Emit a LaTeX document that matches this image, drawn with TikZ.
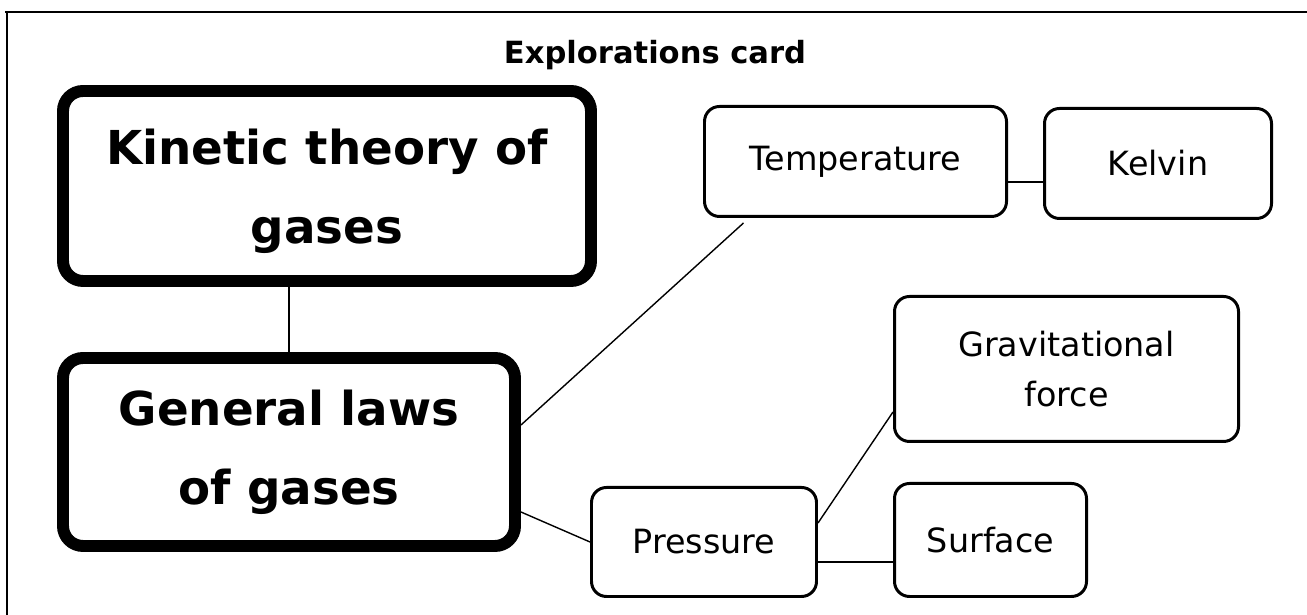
\documentclass[tikz,border=0pt]{standalone}
\usepackage{fontspec}
\setmainfont{DejaVu Sans}
\usepackage{tikz}
\usetikzlibrary{positioning}

\begin{document}
\begin{tikzpicture}[line width=0.8pt,
        bigbox/.style={draw, line width=6.8pt, rounded corners=0.4cm, align=center, inner sep=0pt,
            font=\fontsize{26.6}{45}\selectfont\bfseries},
        smallbox/.style={draw, line width=1.7pt, rounded corners=0.3cm, align=center, inner sep=0pt,
            font=\fontsize{19}{28}\selectfont}]
                \useasboundingbox (0,0) rectangle (26.14,12.3);
                \draw[line width=1.3pt] (0.1,12.06) -- (26.14,12.06);
                \draw[line width=1.3pt] (0.14,12.06) -- (0.14,0);
                \node (title) at (13.1,11.2) {\fontsize{17.4}{20}\selectfont\bfseries Explorations card};

                \node[bigbox, minimum width=10.56cm, minimum height=3.8cm, text depth=0cm] (kin) at (6.54,8.58) {Kinetic theory of\\gases};
                \node[bigbox, minimum width=9.04cm, minimum height=3.76cm] (gen) at (5.78,3.26) {General laws\\of gases};

                \node[smallbox, minimum width=6.04cm, minimum height=2.2cm] (temp) at (17.11,9.07) {Temperature};
                \node[smallbox, minimum width=4.54cm, minimum height=2.2cm] (kelvin) at (23.16,9.03) {Kelvin};
                \node[smallbox, minimum width=6.88cm, minimum height=2.9cm] (grav) at (21.33,4.92) {Gravitational\\force};
                \node[smallbox, minimum width=4.5cm, minimum height=2.18cm] (press) at (14.08,1.46) {Pressure};
                \node[smallbox, minimum width=3.84cm, minimum height=2.26cm] (surf) at (19.81,1.5) {Surface};

                \draw (gen.north) -- (gen.north |- kin.south);
                \draw ([yshift=0.54cm]gen.east) -- ([xshift=-2.24cm,yshift=-0.1cm]temp.south);
                \draw ([yshift=-0.41cm]temp.east) -- ([yshift=-0.41cm]temp.east -| kelvin.west);
                \draw ([yshift=-1.2cm]gen.east) -- (press.west);
                \draw ([yshift=0.38cm]press.east) -- ([yshift=-0.86cm]grav.west);
                \draw ([yshift=-0.4cm]press.east) -- ([yshift=-0.4cm]press.east -| surf.west);
            \end{tikzpicture}
\end{document}
